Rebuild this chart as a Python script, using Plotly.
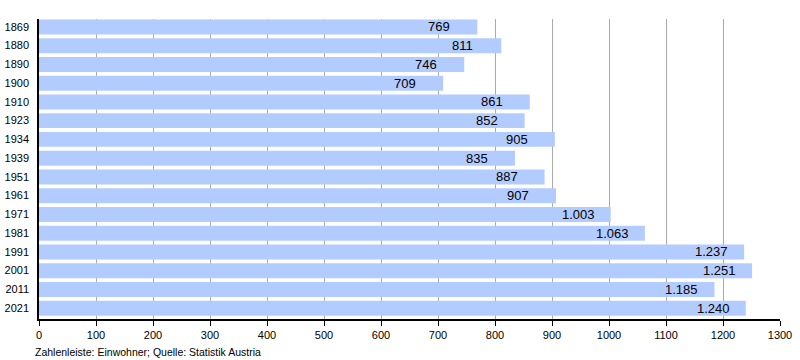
import plotly.graph_objects as go

years = ["1869", "1880", "1890", "1900", "1910", "1923", "1934", "1939",
         "1951", "1961", "1971", "1981", "1991", "2001", "2011", "2021"]
population = [769, 811, 746, 709, 861, 852, 905, 835,
              887, 907, 1003, 1063, 1237, 1251, 1185, 1240]
x_ticks = list(range(0, 1301, 100))

def fmt(v):
    return f"{v:,}".replace(",", ".")

fig = go.Figure()
fig.add_trace(go.Bar(
    y=years, x=population, orientation="h",
    marker=dict(color="#b3ccff", line=dict(width=0)),
    hoverinfo="x+y",
))

for i, v in enumerate(population):
    fig.add_annotation(x=v, y=i, text=fmt(v), showarrow=False,
                       xanchor="left", xshift=-51, yshift=0,
                       font=dict(family="Liberation Sans, Arial", size=13, color="#000"))

fig.add_annotation(xref="paper", yref="paper", x=-0.008, y=-0.082, yanchor="top",
                   xanchor="left", showarrow=False,
                   text="Zahlenleiste: Einwohner; Quelle: Statistik Austria",
                   font=dict(family="Liberation Sans, Arial", size=10.5, color="#000"))

fig.update_layout(
    width=800, height=360,
    margin=dict(l=39, r=20, t=19, b=41),
    paper_bgcolor="white", plot_bgcolor="white",
    bargap=0.2, showlegend=False,
    font=dict(family="Liberation Sans, Arial", size=11, color="#000"),
)
fig.update_xaxes(range=[0, 1300], tickvals=x_ticks, showgrid=True, gridcolor="#aaaaaa",
                 gridwidth=1, showline=True, linecolor="#000", linewidth=1.5,
                 ticks="outside", ticklen=5, tickcolor="#000", zeroline=False,
                 tickfont=dict(size=11), automargin=False)
fig.update_yaxes(type="category", categoryorder="array", categoryarray=years,
                 range=[len(years) - 0.42, -0.42], showline=True, linecolor="#000",
                 linewidth=1.5, showgrid=False, ticks="", ticklabelstandoff=6,
                 tickfont=dict(size=11), automargin=False)

fig.write_html("out.html", config={"displayModeBar": False},
               post_script="document.body.style.margin='0';document.body.style.padding='0';")
